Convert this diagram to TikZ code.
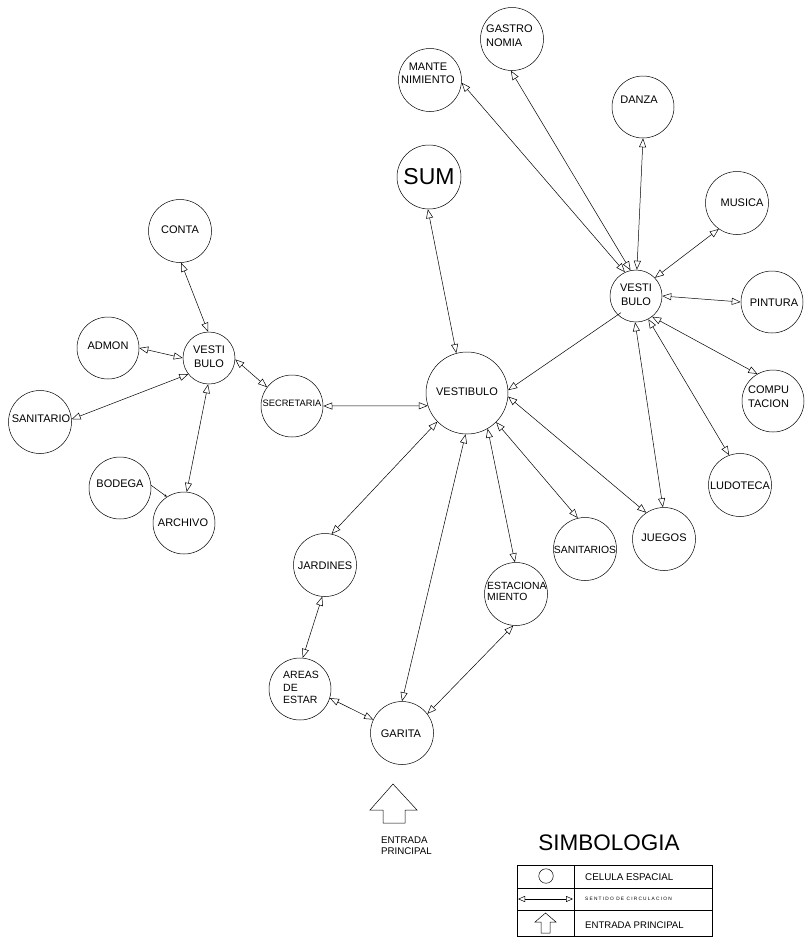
\documentclass[tikz,border=0pt]{standalone}
\usepackage{fontspec}
\setmainfont{Liberation Sans}
\usetikzlibrary{arrows.meta}

\tikzset{
  otri/.tip={Triangle[open,length=9pt,width=7pt]},
  smalltri/.tip={Triangle[open,length=7pt,width=6pt]},
  cell/.style={circle,draw,line width=0.5pt,inner sep=0pt,minimum size=#1},
  cell/.default=62pt,
  txt/.style={inner sep=0pt,align=center,font=\fontsize{11}{14}\selectfont},
  ltxt/.style={txt,align=left},
  flow/.style={line width=0.5pt,otri-otri},
  legline/.style={line width=0.5pt}
}

\begin{document}
\begin{tikzpicture}[x=1pt,y=-1pt]
\path[use as bounding box,fill=white] (0,0) rectangle (805,938);

% ---------------- administrative block ----------------
\node[cell=63pt] (conta)   at (180,231) {};
\node[cell]      (admon)   at (108,348) {};
\node[cell=52pt] (vl)      at (209,358) {};
\node[cell=63pt] (sanit)   at (40,422)  {};
\node[cell]      (bodega)  at (120,488) {};
\node[cell]      (archivo) at (184,523) {};
\node[cell]      (secr)    at (292,406) {};

\node[txt] (t-conta)   at (180,230) {CONTA};
\node[txt] (t-admon)   at (108,346) {ADMON};
\node[txt] (t-vl)      at (209,357) {VESTI\\BULO};
\node[txt] (t-sanit)   at (41,419)  {SANITARIO};
\node[txt] (t-bodega)  at (120,484) {BODEGA};
\node[txt] (t-archivo) at (183,523) {ARCHIVO};
\node[txt,font=\fontsize{9.3}{11}\selectfont] (t-secr) at (292,403) {SECRETARIA};

% ---------------- central hall ----------------
\node[cell=82pt] (vc)  at (467,393) {};
\node[cell=64pt] (sum) at (429,177) {};
\node[txt] (t-vc)  at (467,392) {VESTIBULO};
\node[txt,font=\fontsize{23}{26}\selectfont] (t-sum) at (429,177) {SUM};

% ---------------- workshops ----------------
\node[cell=63pt] (mante)  at (430,80)  {};
\node[cell=63pt] (gastro) at (512,39)  {};
\node[cell]      (danza)  at (643,107) {};
\node[cell=63pt] (musica) at (737,203) {};
\node[cell=52pt] (vr)     at (636,296) {};
\node[cell]      (pintura) at (772,302) {};
\node[cell]      (compu)  at (773,401) {};
\node[cell=63pt] (ludo)   at (740,485) {};
\node[cell=63pt] (juegos) at (664,539) {};
\node[cell=63pt] (sanitarios) at (585,549) {};

\node[txt,font=\fontsize{11}{13}\selectfont] (t-mante) at (428,73.5) {MANTE\\NIMIENTO};
\node[ltxt,anchor=west] (t-gastro) at (486,36) {GASTRO\\NOMIA};
\node[txt] (t-danza)   at (639,100) {DANZA};
\node[txt] (t-musica)  at (742,203) {MUSICA};
\node[txt] (t-vr)      at (636,295) {VESTI\\BULO};
\node[txt] (t-pintura) at (774,303) {PINTURA};
\node[ltxt,anchor=west] (t-compu) at (748,397) {COMPU\\TACION};
\node[txt] (t-ludo)    at (740,486) {LUDOTECA};
\node[txt] (t-juegos)  at (664,538) {JUEGOS};
\node[txt,font=\fontsize{10.4}{12}\selectfont] (t-sanitarios) at (585,550) {SANITARIOS};

% ---------------- access ----------------
\node[cell=63pt] (estac)    at (516,594) {};
\node[cell=63pt] (jardines) at (325,565) {};
\node[cell]      (areas)    at (300,689) {};
\node[cell=63pt] (garita)   at (402,733) {};

\node[ltxt,anchor=west,font=\fontsize{10.4}{11.3}\selectfont] (t-estac) at (487,591.5) {ESTACIONA\\MIENTO};
\node[txt] (t-jardines) at (325,566) {JARDINES};
\node[ltxt,anchor=west,font=\fontsize{10.5}{12.5}\selectfont] (t-areas) at (283,687.5) {AREAS\\DE\\ESTAR};
\node[txt] (t-garita) at (401,734) {GARITA};

% ---------------- circulation ----------------
\draw[flow] (conta.272) -- (vl.92);
\draw[flow] (admon.0) -- (vl.180);
\draw[flow] (vl.218) -- (sanit.5);
\draw[flow] (vl.-3) -- (secr.143);
\draw[flow] (vl.268) -- (archivo.85);
\draw[line width=0.5pt,-{Latex[length=2.5pt,width=2.5pt]}] (bodega.5) -- (archivo.123);

\draw[flow] (secr.0) -- (vc.198);
\draw[flow] (sum.268) -- (vc.105);
\draw[line width=0.5pt,otri-,shorten >=-4pt] (vc.4) -- (vr.226);
\draw[flow] (vc.224) -- (jardines.78);
\draw[flow] (vc.268) -- (garita.90);
\draw[flow] (vc.300) -- (estac.92);
\draw[flow] (vc.315) -- (sanitarios.103);
\draw[flow] (vc.355) -- (juegos.124);

\draw[flow] (mante.355) -- (vr.115);
\draw[flow] (gastro.268) -- (vr.102);
\draw[flow] (danza.270) -- (vr.88);
\draw[flow] (vr.44) -- (musica.235);
\draw[flow] (vr.0) -- (pintura.180);
\draw[flow] (vr.308) -- (compu.120);
\draw[flow] (vr.298) -- (ludo.110);
\draw[flow] (vr.268) -- (juegos.92);

\draw[flow] (jardines.265) -- (areas.85);
\draw[flow] (areas.343) -- (garita.155);
\draw[flow] (estac.265) -- (garita.37);

% ---------------- main entrance ----------------
\draw[line width=0.5pt,line join=miter]
  (393,784) -- (417,810) -- (405,810) -- (405,823) -- (383,823)
  -- (383,810) -- (370,810) -- cycle;
\node[ltxt,anchor=west,font=\fontsize{9.7}{11}\selectfont] (t-entrada) at (381,845.5) {ENTRADA\\PRINCIPAL};

% ---------------- legend ----------------
\node[txt,font=\fontsize{22.5}{26}\selectfont] (t-simb) at (609,843) {SIMBOLOGIA};
\draw[legline] (517,865) rectangle (712,936);
\draw[legline] (517,888) -- (712,888);
\draw[legline] (517,910) -- (712,910);
\draw[legline] (574,865) -- (574,936);

\node[circle,draw,line width=0.5pt,inner sep=0pt,minimum size=14.5pt] (leg-cell) at (546,876) {};
\coordinate (leg-a) at (518,899);
\coordinate (leg-b) at (573,899);
\draw[line width=0.5pt,smalltri-smalltri] (leg-a) -- (leg-b);
\draw[line width=0.5pt,line join=miter]
  (545.5,913) -- (556,922) -- (550,922) -- (550,933) -- (541,933)
  -- (541,922) -- (535,922) -- cycle;

\node[ltxt,anchor=west,font=\fontsize{9.8}{12}\selectfont] (t-leg1) at (585,877) {CELULA ESPACIAL};
\node[ltxt,anchor=west,font=\fontsize{4.8}{6}\selectfont\addfontfeature{LetterSpace=25}] (t-leg2) at (585,898.5) {SENTIDO DE CIRCULACION};
\node[ltxt,anchor=west,font=\fontsize{9.6}{12}\selectfont] (t-leg3) at (585,925) {ENTRADA PRINCIPAL};
\end{tikzpicture}
\end{document}
